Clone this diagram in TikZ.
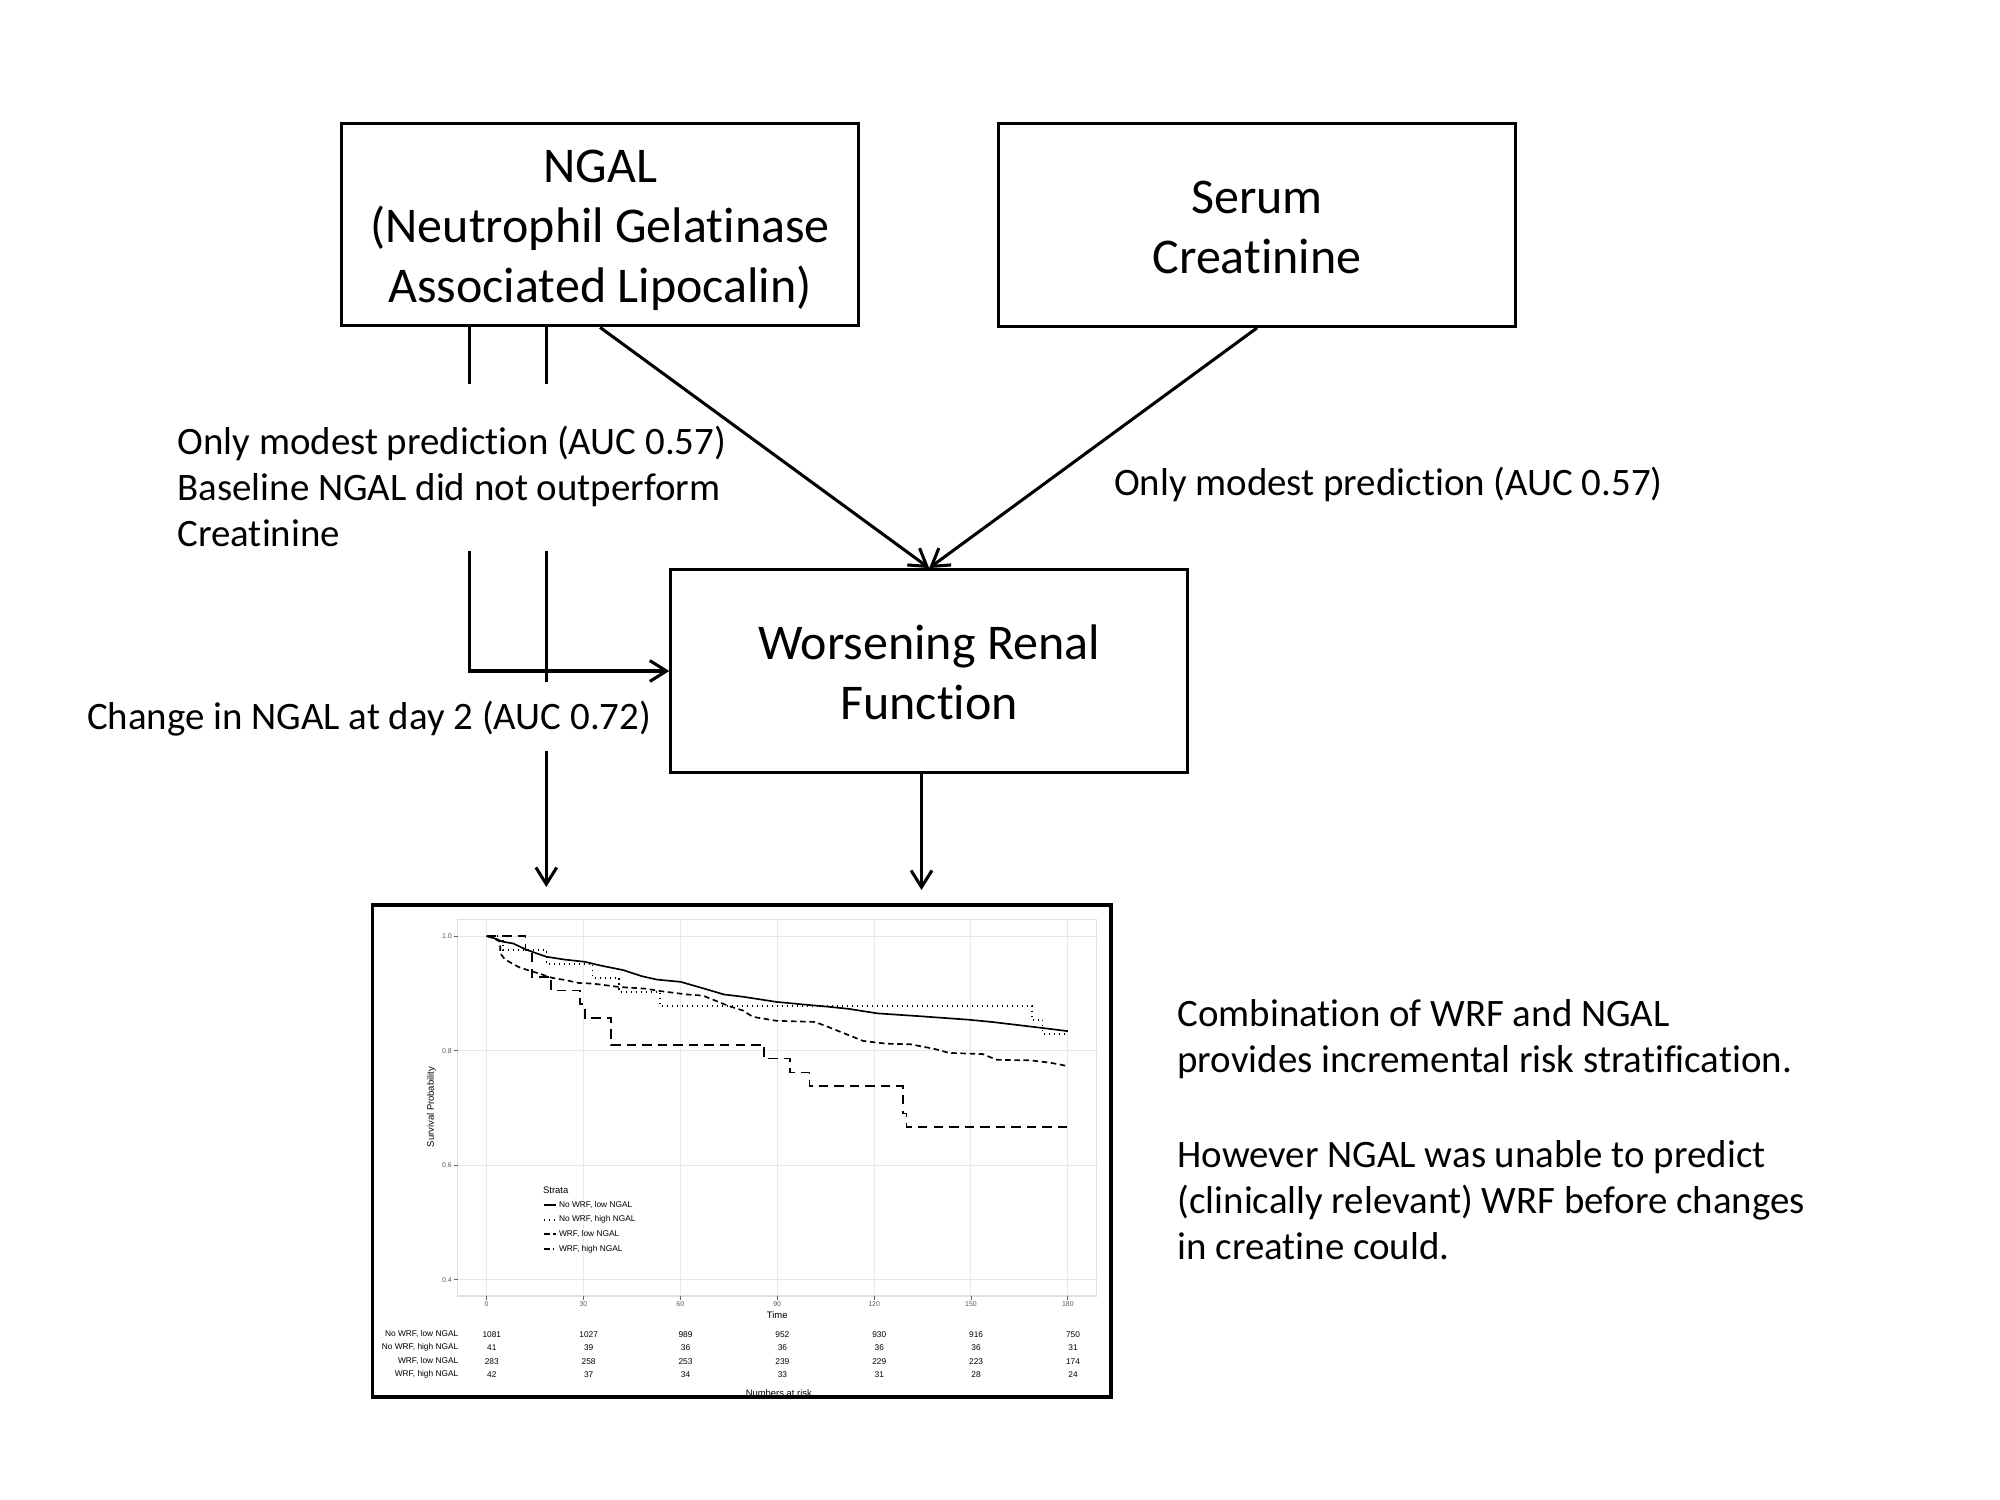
\documentclass[tikz,border=0pt]{standalone}
\usepackage{fontspec}
\setmainfont{Carlito}[Ligatures=NoCommon]
\newfontfamily\plotfont{Liberation Sans}
\usetikzlibrary{arrows.meta}

\newcommand{\boxstrut}{\rule[-4pt]{0pt}{21pt}}

\tikzset{
  bigbox/.style={draw, line width=1.1pt, minimum width=186pt, minimum height=73pt, inner sep=0pt, align=center, font=\fontsize{18}{21.6}\selectfont},
  note/.style={anchor=west, inner sep=0pt, align=left, font=\fontsize{14}{16.6}\selectfont},
  link/.style={line width=1.1pt},
  arr/.style={line width=1.1pt, -{Straight Barb[length=6pt,width=7.5pt]}},
  grid line/.style={draw=black!9, line width=0.35pt},
  km line/.style={line width=0.6pt},
  kmtext/.style={inner sep=0pt, font=\plotfont\fontsize{3}{3.6}\selectfont},
  kmtick/.style={inner sep=0pt, text=black!65, font=\plotfont\fontsize{2.5}{3}\selectfont},
  kmtitle/.style={inner sep=0pt, font=\plotfont\fontsize{3.4}{4}\selectfont},
  nohigh/.style={km line, dash pattern=on 0.5pt off 1.3pt},
  wrflow/.style={km line, dash pattern=on 2pt off 1.3pt},
  wrfhigh/.style={km line, dash pattern=on 3.4pt off 2.2pt},
}

\begin{document}
\begin{tikzpicture}[x=0.36pt,y=0.36pt,yscale=-1,xscale=1]
\useasboundingbox (0,0) rectangle (2000,1500);

%Shape: Rectangle
\node[bigbox] (ngal) at (600.1,224.5) {\boxstrut NGAL\\(Neutrophil Gelatinase\\Associated Lipocalin)\boxstrut};
%Shape: Rectangle
\node[bigbox] (serum) at (1257,225) {\boxstrut Serum\\Creatinine\boxstrut};
%Shape: Rectangle
\node[bigbox] (wrf) at (929.2,671) {\boxstrut Worsening Renal\\Function\boxstrut};

% Text Node
\node[note] (leftnote) at (177,486.5) {Only modest prediction (AUC 0.57)\\Baseline NGAL did not outperform\\Creatinine};
% Text Node
\node[note] (rightnote) at (1113.5,484) {Only modest prediction (AUC 0.57)};
% Text Node
\node[note] (daytwo) at (86.5,719) {Change in NGAL at day 2 (AUC 0.72)};
% Text Node
\node[note] (summary) at (1177,1129.5) {Combination of WRF and NGAL\\provides incremental risk stratification.\\[17.5pt]However NGAL was unable to predict\\(clinically relevant) WRF before changes\\in creatine could.};

\coordinate (a1) at (469.4,384);
\coordinate (a2) at (469.4,551);
\coordinate (b1) at (546.3,384);
\coordinate (b2) at (546.3,551);
\coordinate (b3) at (546.3,682);
\coordinate (b4) at (546.3,751);
\coordinate (b5) at (546.3,887);
\coordinate (c1) at (921.5,890);

%Straight Lines
\draw[link] (ngal.south -| a1) -- (a1);
\draw[link] (ngal.south -| b1) -- (b1);
\draw[arr] (a2) |- (wrf.west);
\draw[link] (b2) -- (b3);
\draw[arr] (b4) -- (b5);
\draw[arr] (ngal.south) -- (wrf.north);
\draw[arr] (serum.south) -- (wrf.north);
\draw[arr] (wrf.south -| c1) -- (c1);

% survival plot, time in days and probability
\begin{scope}[shift={(486.6,1509)},xscale=3.229,yscale=-573]
\draw[draw=black!12, line width=0.4pt] (-8.92,0.3717) rectangle (188.9,1.029);
\foreach \t in {0,30,...,180} {
  \draw[grid line] (\t,0.3717) -- (\t,1.029);
  \draw[black!60, line width=0.3pt] (\t,0.3717) -- (\t,0.3645);
  \node[kmtick] at (\t,0.3571) {\t};
}
\foreach \s in {0.4,0.6,0.8,1.0} {
  \draw[grid line] (-8.92,\s) -- (188.9,\s);
  \draw[black!60, line width=0.3pt] (-8.92,\s) -- (-10,\s);
  \node[kmtick, anchor=east] at (-10.6,\s) {\s};
}
\node[kmtitle, rotate=90] (ylab) at (-17.06,0.7016) {Survival Probability};
\node[kmtitle] (xlab) at (90,0.3386) {Time};

% curves
\draw[km line] (0,1) -- (3,0.995) -- (5,0.99) -- (8.2,0.987) -- (12.6,0.9755) -- (18.5,0.9638) -- (24,0.959) -- (30.4,0.955) -- (34.9,0.949) -- (42.3,0.9405) -- (48,0.93) -- (52.7,0.924) -- (60.1,0.92) -- (67.5,0.908) -- (73.5,0.898) -- (79.4,0.894) -- (89.8,0.885) -- (97.2,0.881) -- (105,0.877) -- (112,0.873) -- (121,0.865) -- (134.3,0.86) -- (149.1,0.854) -- (156.5,0.85) -- (171.4,0.84) -- (180,0.834);
\draw[nohigh] (0,1) -- (5,1) -- (5,0.9756) -- (18.5,0.9756) -- (18.5,0.9512) -- (32.8,0.9512) -- (32.8,0.9268) -- (41.1,0.9268) -- (41.1,0.9024) -- (53.6,0.9024) -- (53.6,0.878) -- (168.9,0.878) -- (168.9,0.8537) -- (172.2,0.8537) -- (172.2,0.829) -- (180,0.829);
\draw[wrflow] (0,1) -- (2.2,0.996) -- (4.2,0.99) -- (4.2,0.97) -- (5.7,0.959) -- (9.9,0.946) -- (13,0.94) -- (16,0.935) -- (20.3,0.927) -- (24.5,0.923) -- (28.6,0.918) -- (32.8,0.917) -- (37,0.914) -- (41.1,0.911) -- (49.5,0.908) -- (53.6,0.904) -- (62,0.898) -- (67,0.896) -- (70.5,0.888) -- (74.9,0.878) -- (79.4,0.87) -- (82.4,0.859) -- (89.8,0.852) -- (101.6,0.85) -- (104.6,0.844) -- (109,0.834) -- (113.5,0.824) -- (116.5,0.817) -- (123.9,0.812) -- (131.3,0.811) -- (138.7,0.803) -- (143.2,0.796) -- (153.6,0.794) -- (158,0.784) -- (168.4,0.783) -- (174.4,0.779) -- (180,0.773);
\draw[wrfhigh] (0,1) -- (12,1) -- (12,0.976) -- (14,0.976) -- (14,0.929) -- (20,0.929) -- (20,0.905) -- (29,0.905) -- (29,0.881) -- (30.5,0.881) -- (30.5,0.857) -- (38.6,0.857) -- (38.6,0.81) -- (86,0.81) -- (86,0.786) -- (94,0.786) -- (94,0.762) -- (100,0.762) -- (100,0.738) -- (129,0.738) -- (129,0.69) -- (130,0.69) -- (130,0.667) -- (180,0.667);

% legend
\node[kmtitle, anchor=west] (strata) at (17.34,0.5555) {Strata};
\draw[km line] (17.8,0.5309) -- (21.5,0.5309);
\node[kmtext, anchor=west] at (22.27,0.5309) {No WRF, low NGAL};
\draw[nohigh] (17.8,0.5047) -- (21.5,0.5047);
\node[kmtext, anchor=west] at (22.27,0.5047) {No WRF, high NGAL};
\draw[wrflow] (17.8,0.4796) -- (21.5,0.4796);
\node[kmtext, anchor=west] at (22.27,0.4796) {WRF, low NGAL};
\draw[km line, dash pattern=on 2pt off 1.2pt on 0.4pt off 1.2pt] (17.8,0.4534) -- (21.5,0.4534);
\node[kmtext, anchor=west] at (22.27,0.4534) {WRF, high NGAL};

% numbers at risk
\node[kmtext, anchor=east] at (-8.6,0.3047) {No WRF, low NGAL};
\node[kmtext, anchor=east] at (-8.6,0.2813) {No WRF, high NGAL};
\node[kmtext, anchor=east] at (-8.6,0.2579) {WRF, low NGAL};
\node[kmtext, anchor=east] at (-8.6,0.2345) {WRF, high NGAL};
\foreach \t/\n in {0/1081,30/1027,60/989,90/952,120/930,150/916,180/750}
  \node[kmtext] at (\t+1.6,0.3047) {\n};
\foreach \t/\n in {0/41,30/39,60/36,90/36,120/36,150/36,180/31}
  \node[kmtext] at (\t+1.6,0.2813) {\n};
\foreach \t/\n in {0/283,30/258,60/253,90/239,120/229,150/223,180/174}
  \node[kmtext] at (\t+1.6,0.2579) {\n};
\foreach \t/\n in {0/42,30/37,60/34,90/33,120/31,150/28,180/24}
  \node[kmtext] at (\t+1.6,0.2345) {\n};
\node[kmtitle] (risk) at (90.5,0.2024) {Numbers at risk};
\end{scope}

%Shape: Rectangle
\node[draw, line width=1.2pt, minimum width=265.9pt, minimum height=177.1pt, inner sep=0pt] (km) at (741.75,1151) {};

\end{tikzpicture}
\end{document}
